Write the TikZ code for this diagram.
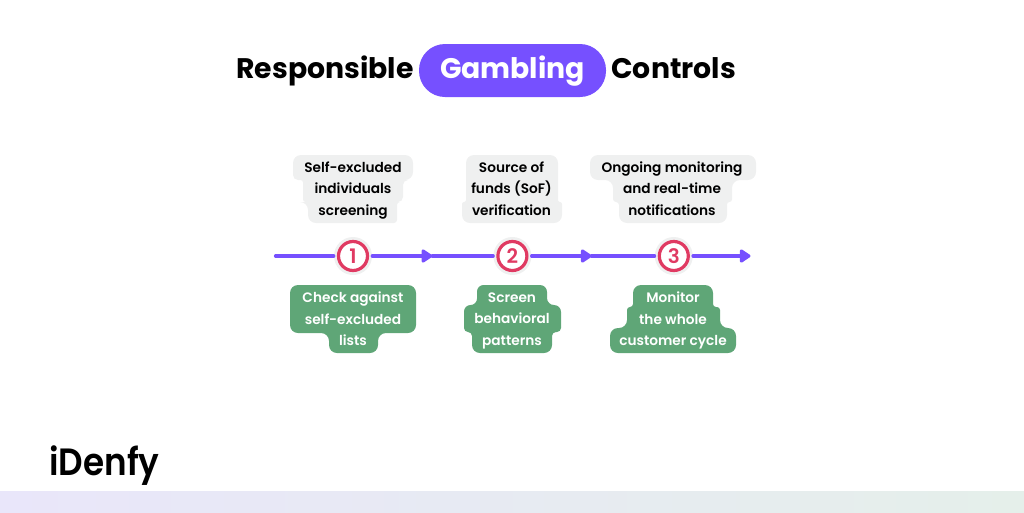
\documentclass[tikz,border=0pt]{standalone}
\usepackage{fontspec}
\setmainfont{Poppins}[BoldFont={Poppins SemiBold}]
\newfontfamily\titlefont{Poppins}
\newfontfamily\logofont{Poppins SemiBold}
\usetikzlibrary{positioning,arrows.meta}

\definecolor{flowpurple}{HTML}{7650FF}
\definecolor{ringred}{HTML}{E03A62}
\definecolor{halogrey}{HTML}{EFF0F0}
\definecolor{boxgrey}{HTML}{EFF0F0}
\definecolor{boxgreen}{HTML}{5FA677}
\definecolor{bandleft}{HTML}{E9E6FA}
\definecolor{bandright}{HTML}{E5EFEA}

\tikzset{
    greyblob/.style={fill=boxgrey},
    greenblob/.style={fill=boxgreen},
    steptext/.style={align=center, inner sep=0pt, font=\fontsize{13.7}{21.6}\selectfont\bfseries,
        execute at begin node={\rule{0pt}{11pt}}, execute at end node={\rule[-4pt]{0pt}{4pt}}},
    halo/.style={circle, fill=halogrey, minimum size=38pt, inner sep=0pt},
    ring/.style={circle, draw=ringred, line width=3.2pt, fill=white, minimum size=29pt, inner sep=0pt, text=ringred, font=\fontsize{20}{22}\selectfont\bfseries},
    flow/.style={draw=flowpurple, line width=3.2pt, line cap=round},
    flowtip/.style={flow, -{Triangle[round, length=12pt, width=15pt]}},
    titleword/.style={inner sep=0pt, text height=21pt, text depth=6pt, font=\fontsize{28.3}{32}\titlefont\bfseries},
}

\begin{document}
\begin{tikzpicture}[x=1pt, y=-1pt]
    \useasboundingbox (0,0) rectangle (1024,512);

    % Title
    \node [titleword, fill=flowpurple, rounded corners=26pt, minimum width=187pt, minimum height=53pt, text=white] (gambling) at (512.5,70.5) {Gambling};
    \node [titleword, left=5pt of gambling] (responsible) {Responsible};
    \node [titleword, right=5pt of gambling] (controls) {Controls};

    % Flow
    \coordinate (start) at (275.5,256);
    \node [halo] (halo1) at (353,256) {};
    \node [halo, right=121pt of halo1] (halo2) {};
    \node [halo, right=123pt of halo2] (halo3) {};
    \node [ring] (step1) at (halo1) {1};
    \node [ring] (step2) at (halo2) {2};
    \node [ring] (step3) at (halo3) {3};
    \coordinate [right=60pt of halo1] (tip1);
    \coordinate [right=60pt of halo2] (tip2);
    \coordinate [right=57.5pt of halo3] (tip3);

    \draw [flow] (start) -- (halo1);
    \draw [flowtip] (halo1) -- (tip1);
    \draw [flow] (tip1) -- (halo2);
    \draw [flowtip] (halo2) -- (tip2);
    \draw [flow] (tip2) -- (halo3);
    \draw [flowtip] (halo3) -- (tip3);

    % Upper labels
    \fill [greyblob] (353,155) [rounded corners=8pt] -- (413,155) -- (413,180) [rounded corners=5pt] -- (403,180) -- (403,202) [rounded corners=3pt] -- (397,202) [rounded corners=3pt] -- (397,223) [rounded corners=8pt] -- (308,223) -- (308,202) [rounded corners=2.5pt] -- (303,202) -- (303,180) [rounded corners=5pt] -- (293,180) [rounded corners=8pt] -- (293,155) -- cycle;
    \fill [greyblob] (512,155) [rounded corners=8pt] -- (558,155) [rounded corners=2pt] -- (558,202) -- (562,202) [rounded corners=8pt] -- (562,223) -- (462,223) [rounded corners=2pt] -- (462,202) -- (466,202) [rounded corners=8pt] -- (466,155) -- cycle;
    \fill [greyblob] (673,155) [rounded corners=8pt] -- (756,155) -- (756,180) -- (732,180) [rounded corners=2.5pt] -- (732,202) -- (727,202) [rounded corners=8pt] -- (727,223) -- (619,223) [rounded corners=3pt] -- (619,202) -- (613,202) [rounded corners=8pt] -- (613,180) -- (590,180) -- (590,155) -- cycle;
    \node [steptext] (screening) at (353,190.5) {Self-excluded\\individuals\\screening};
    \node [steptext] (funds) at (511.5,190.5) {Source of\\funds (SoF)\\verification};
    \node [steptext] (ongoing) at (672,190.5) {Ongoing monitoring\\and real-time\\notifications};

    % Lower labels
    \fill [greenblob] (353,285) [rounded corners=8pt] -- (416,285) -- (416,333) -- (378,333) -- (378,353) -- (329,353) -- (329,333) -- (290,333) -- (290,285) -- cycle;
    \fill [greenblob] (512,285) [rounded corners=7pt] -- (547,285) -- (547,305) -- (561,305) [rounded corners=4pt] -- (561,332) -- (552,332) [rounded corners=8pt] -- (552,353) -- (472,353) [rounded corners=4pt] -- (472,332) -- (464,332) [rounded corners=6.5pt] -- (464,305) -- (477,305) -- (477,285) -- cycle;
    \fill [greenblob] (673,285) [rounded corners=8pt] -- (713,285) [rounded corners=3pt] -- (713,307) -- (720,307) [rounded corners=8pt] -- (720,328) -- (736,328) -- (736,353) -- (610,353) -- (610,328) -- (627,328) [rounded corners=3pt] -- (627,307) -- (633,307) [rounded corners=8pt] -- (633,285) -- cycle;
    \node [steptext, text=white] (check) at (353,321) {Check against\\self-excluded\\lists};
    \node [steptext, text=white] (screen) at (512,321) {Screen\\behavioral\\patterns};
    \node [steptext, text=white] (monitor) at (673,321) {Monitor\\the whole\\customer cycle};

    % Logo and band
    \node [inner sep=0pt, xscale=0.9, font=\fontsize{38}{40}\selectfont\logofont] (logo) at (104.5,466) {iDenfy};
    \fill [left color=bandleft, right color=bandright] (0,491) rectangle (1024,512);
\end{tikzpicture}
\end{document}
